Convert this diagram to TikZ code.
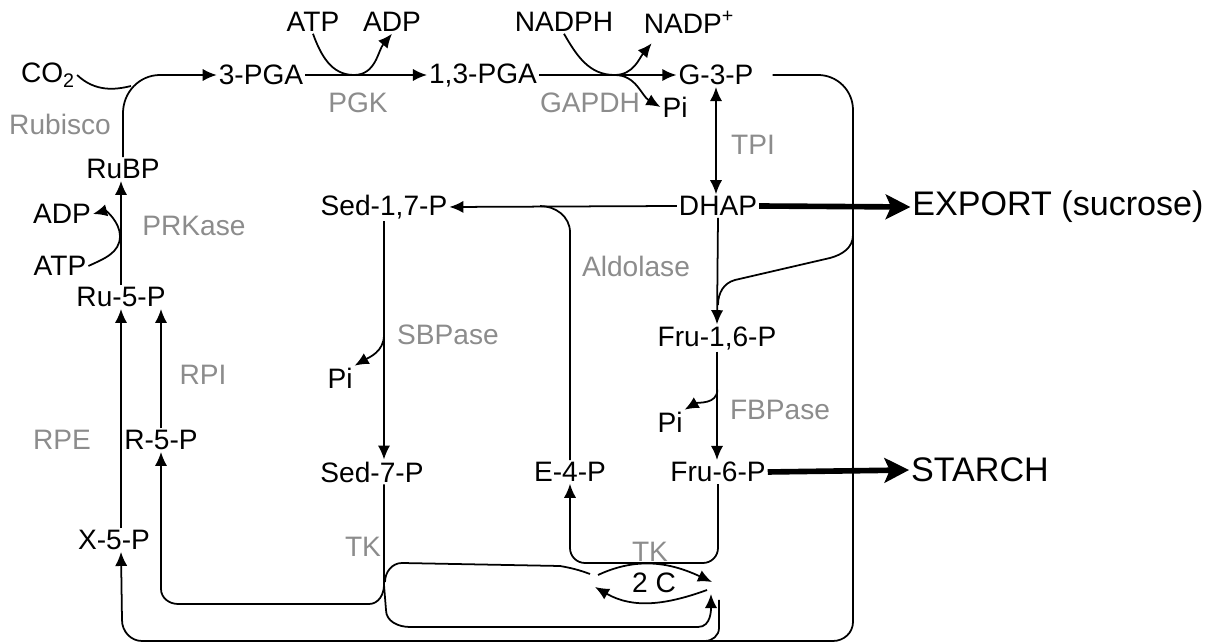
\documentclass[tikz,border=0pt]{standalone}
\usepackage{fontspec}
\setmainfont{Liberation Sans}
\usepackage{tikz}
\usetikzlibrary{calc, positioning, arrows.meta}

\begin{document}
\begin{tikzpicture}[>={Latex[length=8pt,width=7pt]}, x=0.02cm, y=-0.02cm,
    met/.style={inner sep=1pt, font=\fontsize{16}{19}\selectfont},
    enz/.style={met, text=black!45},
    sink/.style={inner sep=1pt, font=\fontsize{19.4}{23}\selectfont},
    flow/.style={line width=1pt},
    bulk/.style={line width=3.2pt, -{Stealth[length=14pt,width=14pt,inset=3pt]}}]
    \useasboundingbox (0,0) rectangle (1218,644);

    % 1. Metabolites
    \node[met] (co2) at (48,75) {CO\textsubscript{2}};
    \node[met] (pga) at (261,75) {3-PGA};
    \node[met] (bpga) at (483,75) {1,3-PGA};
    \node[met] (gap) at (716,75) {G-3-P};
    \node[met] (atpA) at (313,22) {ATP};
    \node[met] (adpA) at (392,22) {ADP};
    \node[met] (nadph) at (564,22) {NADPH};
    \node[met] (nadp) at (689,22) {NADP\textsuperscript{+}};
    \node[met] (piA) at (675,107) {Pi};
    \node[met] (rubp) at (123,169) {RuBP};
    \node[met] (adpB) at (62,214) {ADP};
    \node[met] (atpB) at (60,266) {ATP};
    \node[met] (ru5p) at (121,297) {Ru-5-P};
    \node[met] (sbp) at (384,207) {Sed-1,7-P};
    \node[met] (dhap) at (718,206) {DHAP};
    \node[met] (fbp) at (717,338) {Fru-1,6-P};
    \node[met] (piB) at (340,378) {Pi};
    \node[met] (piC) at (670,422) {Pi};
    \node[met] (r5p) at (161,440) {R-5-P};
    \node[met] (s7p) at (372,472) {Sed-7-P};
    \node[met] (e4p) at (570,472) {E-4-P};
    \node[met] (f6p) at (718,472) {Fru-6-P};
    \node[met] (x5p) at (114,540) {X-5-P};
    \node[met] (twoc) at (654,583) {2 C};
    \node[sink] (export) at (1058,207) {EXPORT (sucrose)};
    \node[sink] (starch) at (980,470) {STARCH};

    % 2. Enzymes
    \node[enz] (rubisco) at (60,124) {Rubisco};
    \node[enz] (pgk) at (358,103) {PGK};
    \node[enz] (gapdh) at (590,103) {GAPDH};
    \node[enz] (tpi) at (753,145) {TPI};
    \node[enz] (prk) at (194,226) {PRKase};
    \node[enz] (aldolase) at (636,266) {Aldolase};
    \node[enz] (sbpase) at (448,335) {SBPase};
    \node[enz] (rpi) at (203,375) {RPI};
    \node[enz] (fbpase) at (780,410) {FBPase};
    \node[enz] (rpe) at (62,440) {RPE};
    \node[enz] (tkA) at (363,547) {TK};
    \node[enz] (tkB) at (650,552) {TK};

    % 3. Carboxylation, reduction
    \draw[flow,->] (rubp.north) -- ++(0,-44) to[out=90,in=180] (pga.west -| 160,0) -- (pga.west);
    \draw[flow] (co2.east) .. controls (95,92) and (115,90) .. (131,86);
    \coordinate (pgk0) at ($(pga.east)!0.4!(bpga.west)$);
    \draw[flow,->] (pga.east) -- (bpga.west);
    \draw[flow,->] (atpA.south) to[out=-70,in=180] (pgk0) to[out=0,in=-130] (adpA.south);
    \coordinate (gapdh0) at ($(bpga.east)!0.55!(gap.west)$);
    \draw[flow,->] (bpga.east) -- (gap.west);
    \draw[flow,->] (nadph.south) to[out=-60,in=180] (gapdh0) to[out=0,in=-130] ($(nadp.south west)+(10,8)$);
    \draw[flow,->] (gapdh0) to[out=0,in=150] (piA.west);
    \draw[flow,<->] (gap.south) -- (gap.south |- dhap.north);

    % 4. Aldolase, phosphatases
    \draw[flow,->] (dhap.west) -- (sbp.east);
    \draw[flow] (e4p.north) -- ++(0,-228) to[out=90,in=0] ($(dhap.west -| e4p.north)+(-30,0)$);
    \draw[flow,->] (dhap.south) -- (fbp.north);
    \draw[bulk] (dhap.east) -- (export.west);
    \draw[flow,->] (sbp.south) -- (sbp.south |- s7p.north);
    \draw[flow,->] (sbp.south |- sbpase.west) to[out=-90,in=30] (piB.north east);
    \draw[flow,->] (fbp.south) -- (fbp.south |- f6p.north);
    \draw[flow,->] ($(fbp.south)!0.35!(f6p.north)$) to[out=-90,in=30] (piC.north east);
    \draw[bulk] (f6p.east) -- (starch.west);

    % 5. Regeneration
    \draw[flow,->] (ru5p.north) -- (ru5p.north |- rubp.south);
    \draw[flow,->] (atpB.east) to[out=25,in=-90] (120,236) to[out=90,in=15] (adpB.east);
    \draw[flow,->] (x5p.north -| ru5p.south) -- (ru5p.south);
    \draw[flow,->] (r5p.north) -- (r5p.north |- ru5p.south);

    % 6. Transketolase
    \draw[flow,->] (f6p.south) -- (f6p.south |- 0,548) to[out=-90,in=0] (703,563)
        -- (585,563) to[out=180,in=-90] (e4p.south |- 0,548) -- (e4p.south);
    \draw[flow,->] (s7p.south -| sbp.south) -- (384,585) to[out=-90,in=0] (369,604)
        -- (178,604) to[out=180,in=-90] (r5p.south |- 0,589) -- (r5p.south);
    \draw[flow,->] (384,585) -- (386,610) to[out=-90,in=180] (410,627)
        -- (698,627) to[out=0,in=-90] (711,594);
    \draw[flow] (385,582) to[out=90,in=180] (402,563) -- (560,566) to[out=-10,in=160] (590,574);
    \draw[flow,->] (598,575) to[out=25,in=155] (712,582);
    \draw[flow,->] (707,590) to[out=200,in=-30] (595,587);
    \draw[flow] (719,600) -- (719,628) to[out=-90,in=0] (705,641);

    % 7. Outer loop from G-3-P
    \draw[flow,->] ($(gap.east)+(17,0)$) -- (818,75) to[out=0,in=90] (853,110)
        -- (853,622) to[out=-90,in=0] (833,641) -- (142,641) to[out=180,in=-90] (122,620)
        -- (x5p.south -| ru5p.south);
    \draw[flow] (853,235) to[out=-90,in=15] (830,258) -- (735,280) to[out=195,in=90] (dhap.south |- 0,305);
\end{tikzpicture}
\end{document}
